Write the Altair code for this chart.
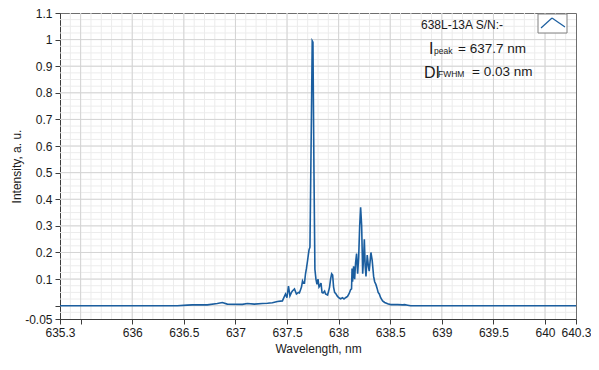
import altair as alt
import pandas as pd

# Spectrum
wavelength = [635.300, 636.436, 636.533, 636.582, 636.727, 636.824, 636.873, 636.921,
              637.067, 637.116, 637.183, 637.261, 637.310, 637.358, 637.407, 637.455,
              637.485, 637.499, 637.514, 637.528, 637.543, 637.552, 637.572, 637.591,
              637.611, 637.620, 637.640, 637.650, 637.659, 637.669, 637.679, 637.688,
              637.698, 637.713, 637.722, 637.736, 637.744, 637.751, 637.761, 637.770,
              637.780, 637.790, 637.800, 637.810, 637.819, 637.829, 637.839, 637.849,
              637.864, 637.873, 637.893, 637.903, 637.912, 637.922, 637.932, 637.942,
              637.951, 637.961, 637.975, 637.989, 638.009, 638.019, 638.038, 638.052,
              638.067, 638.086, 638.101, 638.116, 638.125, 638.130, 638.135, 638.145,
              638.155, 638.164, 638.174, 638.184, 638.194, 638.204, 638.213, 638.223,
              638.233, 638.242, 638.249, 638.257, 638.265, 638.277, 638.288, 638.296,
              638.313, 638.325, 638.339, 638.349, 638.361, 638.373, 638.383, 638.394,
              638.407, 638.426, 638.446, 638.475, 638.504, 638.572, 638.620, 638.640,
              638.669, 638.698, 640.300]
intensity = [0.000, 0.000, 0.002, 0.003, 0.003, 0.008, 0.012, 0.006,
             0.005, 0.008, 0.006, 0.008, 0.009, 0.011, 0.016, 0.018,
             0.044, 0.030, 0.074, 0.037, 0.050, 0.055, 0.063, 0.044,
             0.050, 0.048, 0.070, 0.093, 0.085, 0.085, 0.120, 0.140,
             0.167, 0.210, 0.220, 0.700, 0.995, 0.990, 0.500, 0.137,
             0.100, 0.080, 0.100, 0.070, 0.075, 0.085, 0.050, 0.048,
             0.055, 0.044, 0.040, 0.055, 0.070, 0.100, 0.120, 0.115,
             0.070, 0.050, 0.044, 0.035, 0.028, 0.026, 0.030, 0.025,
             0.030, 0.035, 0.045, 0.060, 0.063, 0.140, 0.090, 0.148,
             0.100, 0.160, 0.196, 0.120, 0.180, 0.300, 0.370, 0.300,
             0.120, 0.180, 0.250, 0.150, 0.110, 0.190, 0.150, 0.130,
             0.200, 0.170, 0.110, 0.090, 0.080, 0.065, 0.050, 0.044,
             0.030, 0.018, 0.012, 0.007, 0.004, 0.004, 0.003, 0.004,
             0.002, 0.000, 0.000]

x_ticks = [635.3, 635.5, 636, 636.5, 637, 637.5, 638, 638.5, 639, 639.5, 640, 640.3]
y_ticks = [-0.05, 0, 0.1, 0.2, 0.3, 0.4, 0.5, 0.6, 0.7, 0.8, 0.9, 1, 1.1]
x_major_grid = [635.5, 636, 636.5, 637, 637.5, 638, 638.5, 639, 639.5, 640]
y_major_grid = [0, 0.1, 0.2, 0.3, 0.4, 0.5, 0.6, 0.7, 0.8, 0.9, 1]
x_minor_grid = [round(635.3 + 0.1 * i, 2) for i in range(1, 50)]
y_minor_grid = [round(-0.05 + 0.025 * i, 3) for i in range(1, 46)]

spec = pd.DataFrame({"wl": wavelength, "inten": intensity})

FONT = "Liberation Sans"
LINE = "#1b5e9f"
xs = alt.Scale(domain=[635.3, 640.3], nice=False, zero=False)
ys = alt.Scale(domain=[-0.05, 1.1], nice=False, zero=False)

minor_x = alt.Chart(pd.DataFrame({"v": x_minor_grid})).mark_rule(color="#ececec", strokeWidth=1).encode(
    x=alt.X("v:Q", scale=xs, axis=None))
minor_y = alt.Chart(pd.DataFrame({"v": y_minor_grid})).mark_rule(color="#ececec", strokeWidth=1).encode(
    y=alt.Y("v:Q", scale=ys, axis=None))
major_x = alt.Chart(pd.DataFrame({"v": x_major_grid})).mark_rule(color="#d4d4d4", strokeWidth=1).encode(
    x=alt.X("v:Q", scale=xs, axis=None))
major_y = alt.Chart(pd.DataFrame({"v": y_major_grid})).mark_rule(color="#d4d4d4", strokeWidth=1).encode(
    y=alt.Y("v:Q", scale=ys, axis=None))

line = alt.Chart(spec).mark_line(color=LINE, strokeWidth=1.6, clip=True).encode(
    x=alt.X("wl:Q", scale=xs, title="Wavelength, nm",
            axis=alt.Axis(values=x_ticks, grid=False, labelOverlap=False, labelFlush=False,
                          labelExpr="datum.value == 635.5 ? '' : '' + datum.value",
                          tickSize=5, labelPadding=3, titlePadding=5)),
    y=alt.Y("inten:Q", scale=ys, title="Intensity, a. u.",
            axis=alt.Axis(values=y_ticks, grid=False, labelOverlap=False, labelFlush=False,
                          labelExpr="datum.value == 0 ? '' : '' + datum.value",
                          tickSize=5, labelPadding=3, titlePadding=1)),
)

one = pd.DataFrame({"a": [0]})

def txt(s, x, y, size, align="left", baseline="alphabetic"):
    return alt.Chart(one).mark_text(text=s, font=FONT, fontSize=size, align=align,
                                    baseline=baseline, color="#1a1a1a").encode(
        x=alt.value(x), y=alt.value(y))

ann = [
    txt("638L-13A S/N:-", 361, 16, 12),
    txt("I", 369, 41, 16),
    txt("peak", 374, 41, 8.5),
    txt("= 637.7 nm", 398, 40, 13.5),
    txt("DI", 364, 65, 16),
    txt("FWHM", 378, 64, 8.5),
    txt("= 0.03 nm", 412, 63, 13.5),
]

box = alt.Chart(one).mark_rect(fill="white", stroke="#808080", strokeWidth=1).encode(
    x=alt.value(478), x2=alt.value(507), y=alt.value(1), y2=alt.value(20))
glyph1 = alt.Chart(one).mark_rule(color=LINE, strokeWidth=1.2).encode(
    x=alt.value(481), x2=alt.value(492), y=alt.value(15), y2=alt.value(5))
glyph2 = alt.Chart(one).mark_rule(color=LINE, strokeWidth=1.2).encode(
    x=alt.value(492), x2=alt.value(505), y=alt.value(5), y2=alt.value(14))

chart = alt.layer(minor_x, minor_y, major_x, major_y, line, *ann, box, glyph1, glyph2).resolve_axis(
    x="independent", y="independent"
).properties(
    width=516, height=306,
    autosize=alt.AutoSizeParams(type="none"),
    padding={"left": 52, "top": 5, "right": 15, "bottom": 40},
).configure_view(stroke="#6e6e6e", strokeWidth=1).configure_axis(
    domainColor="#3c3c3c", tickColor="#3c3c3c", labelColor="#1a1a1a", titleColor="#1a1a1a",
    labelFont=FONT, titleFont=FONT, labelFontSize=12, titleFontSize=12, titleFontWeight="normal",
    labelOverlap=False,
)

chart.save("out.html", embed_options={"renderer": "svg", "actions": False})
